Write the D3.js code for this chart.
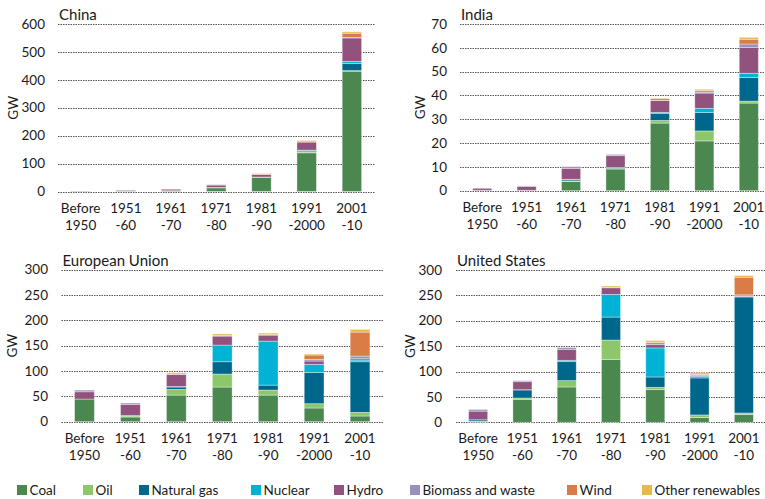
<!DOCTYPE html>
<html>
<head>
<meta charset="utf-8">
<script src="https://cdn.jsdelivr.net/npm/d3@7"></script>
<style>
  body { margin: 0; background: #fff; }
  svg text { font-family: Lato, "Open Sans", sans-serif; fill: #1a1a1a; }
</style>
</head>
<body>
<div id="chart"></div>
<script>
// categories on the x axis (two lines each)
const categories = [["Before", "1950"], ["1951", "-60"], ["1961", "-70"], ["1971", "-80"], ["1981", "-90"], ["1991", "-2000"], ["2001", "-10"]];
const seriesNames = ["Coal", "Oil", "Natural gas", "Nuclear", "Hydro", "Biomass and waste", "Wind", "Other renewables"];
const seriesColors = ["#4a8850", "#8cc86a", "#00678c", "#00b2d3", "#91537e", "#9890be", "#d97c46", "#e8b84a"];

// GW added per decade, one row per series (same order as seriesNames)
const chinaValues = [
  [0.3, 1, 2.5, 13, 51, 138.6, 431],
  [0, 0, 0.5, 1.5, 1, 3.6, 2],
  [0, 0, 0, 0, 0, 3.6, 26],
  [0, 0, 0, 0, 0, 2.4, 7],
  [1.2, 3.5, 5.5, 8.5, 8.5, 28.7, 84],
  [0, 0.5, 0.5, 2, 1, 0, 2],
  [0, 0, 0, 0, 2.5, 3.6, 15],
  [0, 0, 0, 0.5, 1, 2.4, 5]
];
const indiaValues = [
  [0.2, 0.2, 3.9, 9.1, 28.4, 20.9, 36.8],
  [0, 0, 0.2, 0.2, 1.1, 4.2, 0.8],
  [0, 0, 0.5, 0.3, 3, 7.7, 9.9],
  [0, 0, 0.2, 0.1, 0.4, 1.8, 1.8],
  [0.8, 1.6, 4.6, 5, 5, 6.4, 10.9],
  [0, 0.2, 0.7, 0.5, 0.1, 0.4, 1.4],
  [0, 0, 0, 0, 0.7, 0.7, 2],
  [0, 0, 0, 0, 0, 0.5, 0.8]
];
const euValues = [
  [44.6, 9.2, 52.5, 68.3, 52.5, 27, 11.2],
  [0, 2, 11.2, 25.6, 9.8, 8.5, 7.2],
  [0, 1.3, 4.6, 24.3, 9.8, 61.7, 99.8],
  [0, 0, 1, 32.8, 86.7, 15.8, 3.3],
  [14.4, 21.7, 23.6, 17.7, 11.8, 6.6, 2.6],
  [3.3, 2.6, 1, 1, 1, 3.3, 5.2],
  [0, 0, 0, 0, 0, 8.5, 47.3],
  [0, 0, 2.6, 3.3, 3, 2, 5.3]
];
const usValues = [
  [2, 45.3, 69.6, 124, 64.3, 9.2, 15.1],
  [0.5, 2.6, 12.5, 38, 4.6, 5.3, 3.3],
  [2.5, 15.8, 37.4, 45.3, 20.4, 72.9, 228.5],
  [0, 0.5, 2.6, 44.6, 57.1, 3.3, 0.5],
  [17, 15.8, 21.7, 13.1, 6.6, 1, 1],
  [3.3, 2, 3.3, 1, 3.9, 2, 2.6],
  [0, 0, 0, 0, 1, 1, 34.8],
  [0, 0, 0, 2.6, 3, 3, 3.3]
];

const chinaTicks = [0, 100, 200, 300, 400, 500, 600];
const indiaTicks = [0, 10, 20, 30, 40, 50, 60, 70];
const euTicks = [0, 50, 100, 150, 200, 250, 300];
const usTicks = [0, 50, 100, 150, 200, 250, 300];

const W = 765, H = 499;
const svg = d3.select("#chart").append("svg")
  .attr("width", W)
  .attr("height", H);

function drawPanel(p) {
  const g = svg.append("g");
  const x = d3.scaleBand()
    .domain(d3.range(categories.length))
    .range([p.x0, p.x1])
    .paddingInner(0.57)
    .paddingOuter(0.285);
  const y = d3.scaleLinear()
    .domain([0, d3.max(p.ticks)])
    .range([p.y0, p.y1]);

  // dotted gridlines
  g.append("g").selectAll("line")
    .data(p.ticks)
    .join("line")
      .attr("x1", p.x0)
      .attr("x2", Math.min(p.x1, W))
      .attr("y1", d => Math.round(y(d)) + 0.5)
      .attr("y2", d => Math.round(y(d)) + 0.5)
      .attr("stroke", "#555")
      .attr("stroke-width", 1)
      .attr("stroke-dasharray", "1.5,1");

  // y tick labels
  g.append("g").selectAll("text")
    .data(p.ticks)
    .join("text")
      .attr("x", p.tickX)
      .attr("y", d => y(d))
      .attr("dy", "0.35em")
      .attr("text-anchor", "end")
      .style("font-size", "13.5px")
      .text(d => d);

  // stacked bars
  const rows = categories.map((c, i) => p.values.map(s => s[i]));
  const stacked = d3.stack().keys(d3.range(seriesNames.length))(rows);
  g.append("g").selectAll("g")
    .data(stacked)
    .join("g")
      .attr("fill", d => seriesColors[d.key])
      .selectAll("rect")
      .data(d => d.map((v, i) => ({v, i})))
      .join("rect")
        .attr("x", d => x(d.i))
        .attr("width", x.bandwidth())
        .attr("y", d => y(d.v[1]))
        .attr("height", d => Math.max(0, y(d.v[0]) - y(d.v[1])))
        .attr("stroke", "#fff")
        .attr("stroke-opacity", 0.45)
        .attr("stroke-width", 0.8);

  // x category labels
  const cat = g.append("g").selectAll("text")
    .data(categories)
    .join("text")
      .attr("text-anchor", "middle")
      .style("font-size", "13.5px");
  cat.append("tspan")
    .attr("x", (d, i) => x(i) + x.bandwidth() / 2)
    .attr("y", p.y0 + 21)
    .text(d => d[0]);
  cat.append("tspan")
    .attr("x", (d, i) => x(i) + x.bandwidth() / 2)
    .attr("y", p.y0 + 38)
    .text(d => d[1]);

  // title
  g.append("text")
    .attr("x", p.x0 + 1)
    .attr("y", p.y1 - 4)
    .style("font-size", "15px")
    .text(p.title);

  // axis title
  g.append("text")
    .attr("transform", `translate(${p.gwX},${(p.y0 + p.y1) / 2}) rotate(-90)`)
    .attr("text-anchor", "middle")
    .style("font-size", "13.5px")
    .text("GW");
}

drawPanel({title: "China", values: chinaValues, ticks: chinaTicks, x0: 58, x1: 374.5, y0: 191.5, y1: 24, tickX: 45, gwX: 18});
drawPanel({title: "India", values: indiaValues, ticks: indiaTicks, x0: 460, x1: 771, y0: 190.7, y1: 24, tickX: 447, gwX: 425});
drawPanel({title: "European Union", values: euValues, ticks: euTicks, x0: 61.5, x1: 383, y0: 421.7, y1: 269.5, tickX: 48, gwX: 17});
drawPanel({title: "United States", values: usValues, ticks: usTicks, x0: 456, x1: 766, y0: 422.3, y1: 270, tickX: 442, gwX: 415});

// legend
const legendX = [17, 83, 139, 251, 334, 410, 567, 642];
const legend = svg.append("g").selectAll("g")
  .data(seriesNames)
  .join("g")
    .attr("transform", (d, i) => `translate(${legendX[i]},485)`);
legend.append("rect")
  .attr("width", 10)
  .attr("height", 10)
  .attr("fill", (d, i) => seriesColors[i]);
legend.append("text")
  .attr("x", 12.5)
  .attr("y", 10)
  .style("font-size", "13.5px")
  .text(d => d);
</script>
</body>
</html>
